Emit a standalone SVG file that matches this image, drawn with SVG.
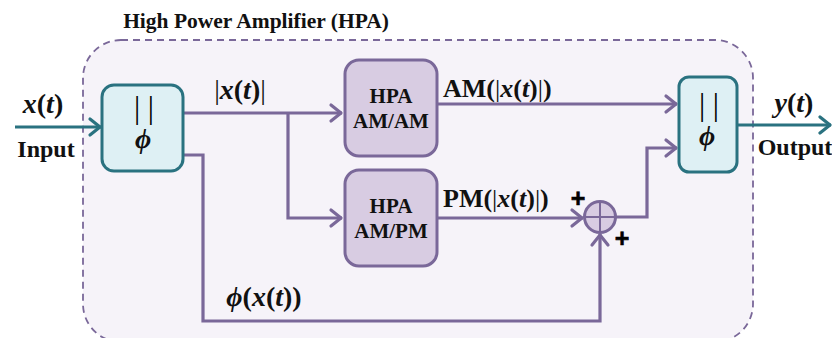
<svg xmlns="http://www.w3.org/2000/svg" width="832" height="338" viewBox="0 0 832 338">
<defs>
<marker id="ap" markerUnits="userSpaceOnUse" markerWidth="24" markerHeight="24" viewBox="-14 -12 24 24" refX="0" refY="0" orient="auto">
<path d="M-11,-8 L-1,0 L-11,8" fill="none" stroke="#7a6899" stroke-width="3.2" stroke-linecap="round" stroke-linejoin="round"/>
</marker>
<marker id="at" markerUnits="userSpaceOnUse" markerWidth="24" markerHeight="24" viewBox="-14 -12 24 24" refX="0" refY="0" orient="auto">
<path d="M-11,-8 L-1,0 L-11,8" fill="none" stroke="#2a7280" stroke-width="3.2" stroke-linecap="round" stroke-linejoin="round"/>
</marker>
</defs>
<style>
text{font-family:"Liberation Serif","Times New Roman",serif;font-weight:bold;fill:#111}
.i{font-style:italic}
.n{font-weight:normal}
.pl{fill:none;stroke:#7a6899;stroke-width:3.2;stroke-linejoin:miter}
.tl{fill:none;stroke:#2a7280;stroke-width:3.2}
.split{fill:#def0f4;stroke:#2a7280;stroke-width:3}
.hpa{fill:#d8cce2;stroke:#7a6899;stroke-width:3}
.lab{font-size:28px}
.io{font-size:24px}
.blk{font-size:21px}
.sig{font-size:26px}
.bars{font-size:31px;font-weight:normal;fill:#000}
.plus{font-family:"Liberation Sans",Arial,sans-serif;font-size:25px;fill:#000;stroke:#000;stroke-width:0.6}
</style>
<g id="container">
<rect x="83" y="40" width="670" height="302" rx="38" fill="#f6f3f9" stroke="#7a6899" stroke-width="1.8" stroke-dasharray="7,5"/>
<text x="256" y="28" font-size="21.5" text-anchor="middle">High Power Amplifier (HPA)</text>
</g>
<g id="connectors">
<line class="tl" x1="15" y1="127" x2="101" y2="127" marker-end="url(#at)"/>
<line class="pl" x1="183" y1="113" x2="342" y2="113" marker-end="url(#ap)"/>
<polyline class="pl" points="288,113 288,218 342,218" marker-end="url(#ap)"/>
<line class="pl" x1="437" y1="104" x2="677" y2="104" marker-end="url(#ap)"/>
<line class="pl" x1="437" y1="218" x2="583" y2="218" marker-end="url(#ap)"/>
<polyline class="pl" points="183,155 203,155 203,321 600,321 600,234" marker-end="url(#ap)"/>
<polyline class="pl" points="616,217 647,217 647,148 677,148" marker-end="url(#ap)"/>
<line class="tl" x1="737" y1="125" x2="831" y2="125" marker-end="url(#at)"/>
</g>
<g id="splitter">
<rect class="split" x="102" y="85" width="81" height="86" rx="12"/>
<text class="bars" x="144" y="118" text-anchor="middle">| |</text>
<text class="i" x="143" y="148" font-size="28" text-anchor="middle">ϕ</text>
</g>
<g id="hpa-am-am">
<rect class="hpa" x="345" y="60" width="92" height="96" rx="14"/>
<text class="blk" x="391" y="103" text-anchor="middle">HPA</text>
<text class="blk" x="391" y="128" text-anchor="middle">AM/AM</text>
</g>
<g id="hpa-am-pm">
<rect class="hpa" x="345" y="170" width="92" height="96" rx="14"/>
<text class="blk" x="391" y="213" text-anchor="middle">HPA</text>
<text class="blk" x="391" y="238" text-anchor="middle">AM/PM</text>
</g>
<g id="sum">
<circle cx="600" cy="217" r="15.5" fill="#d8cce2" stroke="#7a6899" stroke-width="3"/>
<line x1="584.5" y1="217" x2="615.5" y2="217" stroke="#7a6899" stroke-width="2"/>
<line x1="600" y1="201.5" x2="600" y2="232.5" stroke="#7a6899" stroke-width="2"/>
<text class="plus" x="578" y="207" text-anchor="middle">+</text>
<text class="plus" x="622" y="247" text-anchor="middle">+</text>
</g>
<g id="combiner">
<rect class="split" x="679" y="77" width="58" height="95" rx="10"/>
<text class="bars" x="709" y="115" text-anchor="middle">| |</text>
<text class="i" x="707" y="145" font-size="28" text-anchor="middle">ϕ</text>
</g>
<g id="labels">
<text class="lab" x="43" y="113" text-anchor="middle"><tspan class="i">x</tspan>(<tspan class="i">t</tspan>)</text>
<text class="io" x="46" y="157" text-anchor="middle">Input</text>
<text class="lab n" x="240" y="99" text-anchor="middle">|<tspan class="i" font-weight="bold">x</tspan><tspan font-weight="bold">(</tspan><tspan class="i" font-weight="bold">t</tspan><tspan font-weight="bold">)</tspan>|</text>
<text class="sig" x="443" y="97">AM(<tspan class="n">|</tspan><tspan class="i">x</tspan>(<tspan class="i">t</tspan>)<tspan class="n">|</tspan>)</text>
<text class="sig" x="443" y="207">PM(<tspan class="n">|</tspan><tspan class="i">x</tspan>(<tspan class="i">t</tspan>)<tspan class="n">|</tspan>)</text>
<text class="lab" x="264" y="306" text-anchor="middle"><tspan class="i">ϕ</tspan>(<tspan class="i">x</tspan>(<tspan class="i">t</tspan>))</text>
<text class="lab" x="794" y="112" text-anchor="middle"><tspan class="i">y</tspan>(<tspan class="i">t</tspan>)</text>
<text class="io" x="795" y="155" text-anchor="middle">Output</text>
</g>
</svg>
